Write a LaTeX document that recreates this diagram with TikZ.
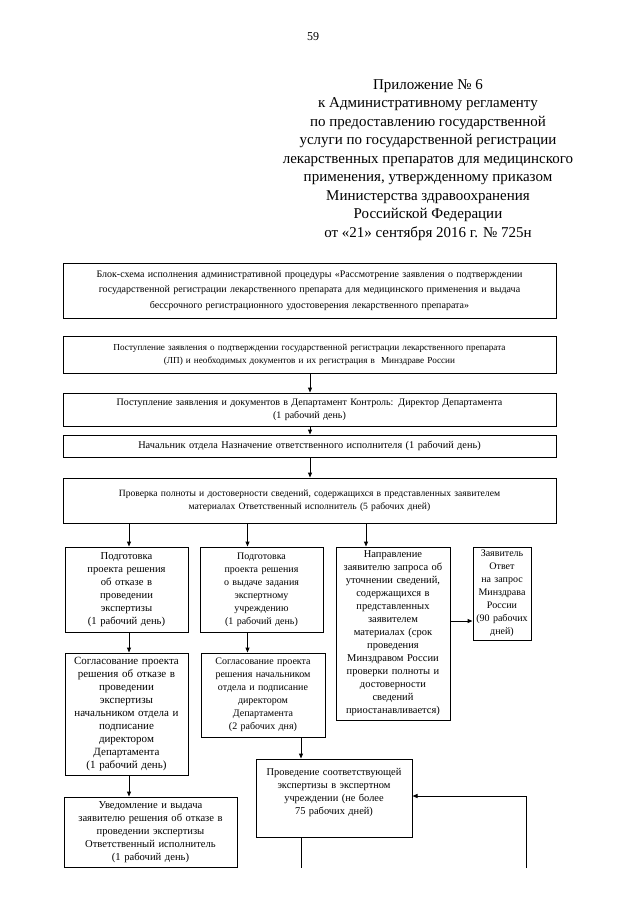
\documentclass[tikz,border=0pt]{standalone}
\usepackage{fontspec}
\setmainfont{Liberation Serif}
\usetikzlibrary{arrows.meta,calc}
\begin{document}
\begin{tikzpicture}[x=1pt,y=-1pt,
  box/.style={draw, line width=1pt, inner sep=1pt, align=center,
    font=\fontsize{10}{13}\selectfont},
  arr/.style={line width=1pt, -{Triangle[length=5pt,width=4pt]}},
  ln/.style={line width=1pt}]
\useasboundingbox (0,0) rectangle (640,905);
\fill[white] (0,0) rectangle (640,905);

\node[font=\fontsize{12}{14}\selectfont] (pg) at (313,37) {59};
\node[align=center, font=\fontsize{15}{18.5}\selectfont] (hdr) at (428,160)
 {Приложение № 6\\
  к Административному регламенту\\
  по предоставлению государственной\\
  услуги по государственной регистрации\\
  лекарственных препаратов для медицинского\\
  применения, утвержденному приказом\\
  Министерства здравоохранения\\
  Российской Федерации\\
  от «21» сентября 2016 г. № 725н};

\node[box, minimum width=493, minimum height=55, text width=489,
  font=\fontsize{10}{15.5}\selectfont] (b1) at (309.5,290.5)
 {Блок-схема исполнения административной процедуры «Рассмотрение заявления о подтверждении\\
  государственной регистрации лекарственного препарата для медицинского применения и выдача\\
  бессрочного регистрационного удостоверения лекарственного препарата»};
\node[box, minimum width=493, minimum height=37, text width=489,
  font=\fontsize{9.2}{13}\selectfont] (b2) at (309.5,354.5)
 {Поступление заявления о подтверждении государственной регистрации лекарственного препарата\\
  (ЛП) и необходимых документов и их регистрация в~ Минздраве России};
\node[box, minimum width=493, minimum height=33, text width=489] (b3) at (309.5,409.5)
 {Поступление заявления и документов в Департамент Контроль: Директор Департамента\\
  (1 рабочий день)};
\node[box, minimum width=493, minimum height=22, text width=489,
  font=\fontsize{10.3}{13}\selectfont] (b4) at (309.5,446)
 {Начальник отдела Назначение ответственного исполнителя (1 рабочий день)};
\node[box, minimum width=493, minimum height=45, text width=489,
  font=\fontsize{9.6}{13}\selectfont] (b5) at (309.5,500.5)
 {Проверка полноты и достоверности сведений, содержащихся в представленных заявителем\\
  материалах Ответственный исполнитель (5 рабочих дней)};

\node[box, minimum width=123, minimum height=85, text width=119,
  font=\fontsize{10.6}{13}\selectfont] (A) at (126.5,589.5)
 {Подготовка\\ проекта решения\\ об отказе в\\ проведении\\ экспертизы\\ (1 рабочий день)};
\node[box, minimum width=123, minimum height=85, text width=119] (B) at (261.5,589.5)
 {Подготовка\\ проекта решения\\ о выдаче задания\\ экспертному\\ учреждению\\ (1 рабочий день)};
\node[box, minimum width=114, minimum height=173, text width=110,
  font=\fontsize{10.5}{13}\selectfont] (G) at (393,633.5)
 {Направление\\ заявителю запроса об\\ уточнении сведений,\\ содержащихся в\\ представленных\\ заявителем\\ материалах (срок\\ проведения\\ Минздравом России\\ проверки полноты и\\ достоверности\\ сведений\\ приостанавливается)};
\node[box, minimum width=58, minimum height=93, text width=56, inner sep=0pt] (H) at (502,593.5)
 {Заявитель\\ Ответ\\ на запрос\\ Минздрава\\ России\\ (90 рабочих\\ дней)};
\node[box, minimum width=123, minimum height=122, text width=121,
  font=\fontsize{11}{13}\selectfont] (C) at (126.5,714)
 {Согласование проекта\\ решения об отказе в\\ проведении\\ экспертизы\\ начальником отдела и\\ подписание\\ директором\\ Департамента\\ (1 рабочий день)};
\node[box, minimum width=124, minimum height=84, text width=120] (D) at (263,695)
 {Согласование проекта\\ решения начальником\\ отдела и подписание\\ директором\\ Департамента\\ (2 рабочих дня)};
\node[box, minimum width=156, minimum height=78, text width=152,
  font=\fontsize{10.4}{13}\selectfont] (E) at (334,798)
 {Проведение соответствующей\\ экспертизы в экспертном\\ учреждении (не более\\ 75 рабочих дней)\\ \mbox{}};
\node[box, minimum width=173, minimum height=70, text width=169,
  font=\fontsize{10.6}{13}\selectfont] (F) at (150.5,832)
 {Уведомление и выдача\\ заявителю решения об отказе в\\ проведении экспертизы\\ Ответственный исполнитель\\ (1 рабочий день)};

\coordinate (eEnd) at (301,868);
\coordinate (rEnd) at (526,868);

% connectors
\draw[arr] ([xshift=0.5pt]b2.south) -- ([xshift=0.5pt]b3.north);
\draw[arr] ([xshift=0.5pt]b3.south) -- ([xshift=0.5pt]b4.north);
\draw[arr] ([xshift=0.5pt]b4.south) -- ([xshift=0.5pt]b5.north);
\draw[arr] ([xshift=2.5pt]A.north |- b5.south) -- ([xshift=2.5pt]A.north);
\draw[arr] ([xshift=-14pt]B.north |- b5.south) -- ([xshift=-14pt]B.north);
\draw[arr] ([xshift=-27pt]G.north |- b5.south) -- ([xshift=-27pt]G.north);
\draw[arr] ([yshift=12.5pt]G.east) -- ([yshift=12.5pt]G.east -| H.west);
\draw[arr] ([xshift=2.5pt]A.south) -- ([xshift=2.5pt]A.south |- C.north);
\draw[arr] ([xshift=-14pt]B.south) -- ([xshift=-14pt]B.south |- D.north);
\draw[arr] ([xshift=2.5pt]C.south) -- ([xshift=2.5pt]C.south |- F.north);
\draw[arr] ([xshift=38pt]D.south) -- ([xshift=38pt]D.south |- E.north);
\draw[ln] (E.south -| eEnd) -- (eEnd);
\draw[arr] (rEnd) -- ([yshift=2pt]rEnd |- E.east) -- ([yshift=2pt]E.east);
\end{tikzpicture}
\end{document}
